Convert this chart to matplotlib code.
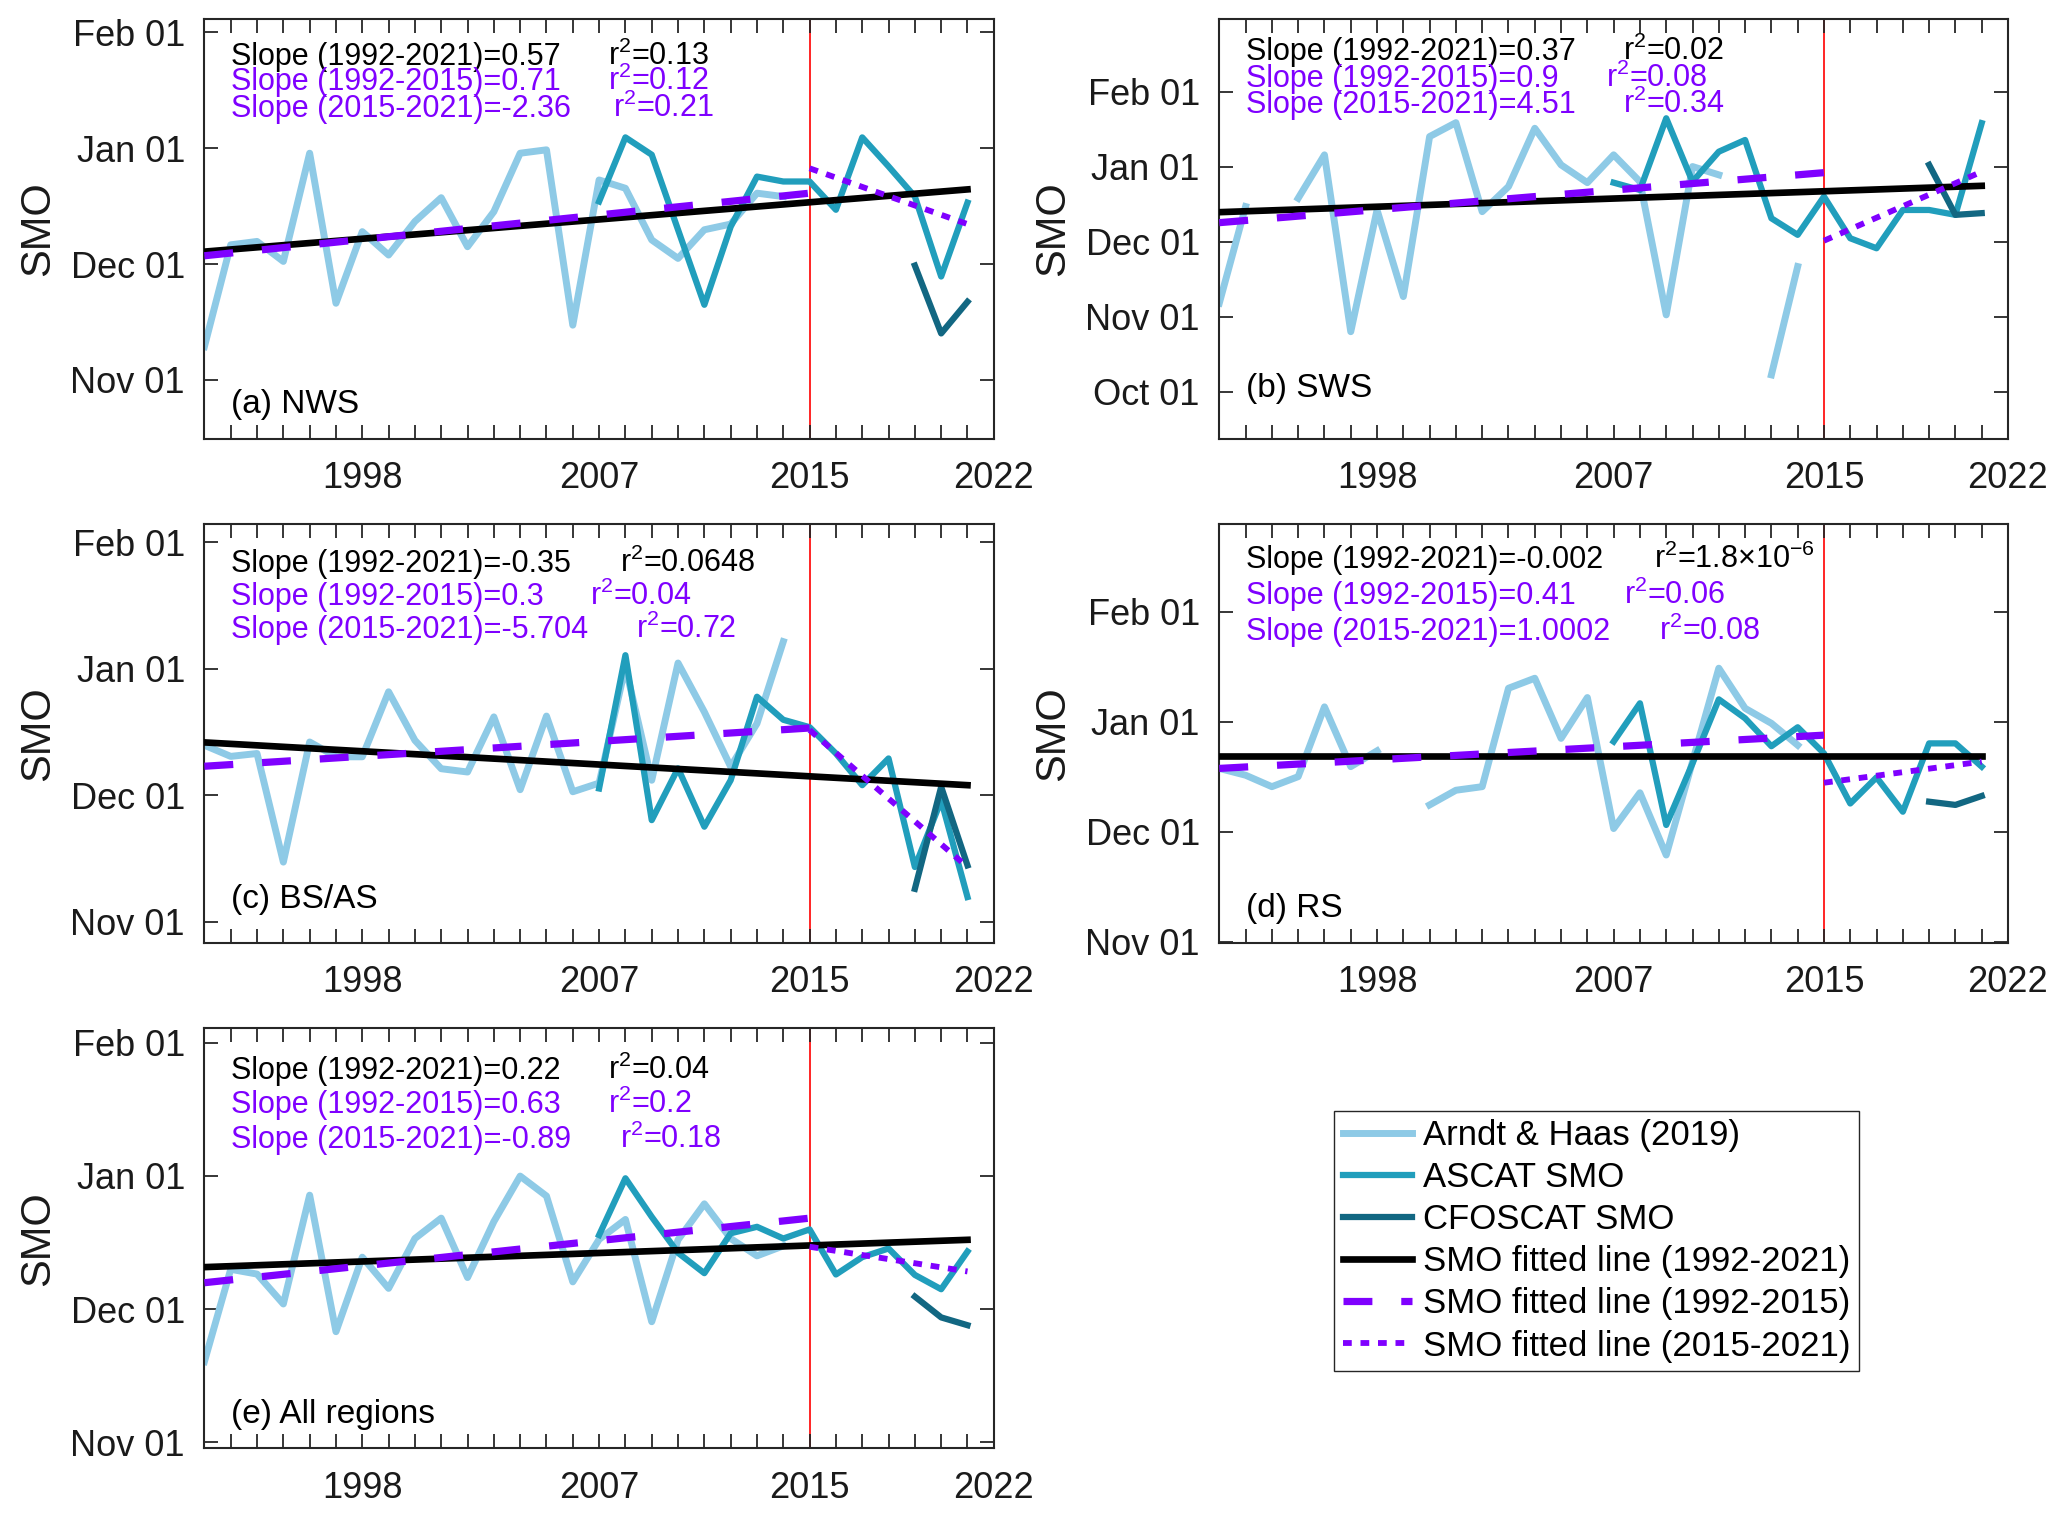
import numpy as np
import matplotlib
matplotlib.use("Agg")
import matplotlib.pyplot as plt

plt.rcParams['font.family'] = ['Liberation Sans', 'DejaVu Sans']
plt.rcParams['mathtext.fontset'] = 'custom'
plt.rcParams['mathtext.rm'] = 'Liberation Sans'
plt.rcParams['mathtext.it'] = 'Liberation Sans:italic'
plt.rcParams['mathtext.bf'] = 'Liberation Sans:bold'

# ---- data (SMO as day-of-year, Oct 01 = 274 ... Feb 01 = 397) ----
years_light = np.arange(1992, 2015)
years_ascat = np.arange(2007, 2022)
years_cfo = np.arange(2019, 2022)
nan = np.nan

month_ticks = [274, 304.75, 335.5, 366.25, 397]
month_labels = ['Oct 01', 'Nov 01', 'Dec 01', 'Jan 01', 'Feb 01']

fit_periods = [(1992, 2021), (1992, 2015), (2015, 2021)]

light_a = [313.6, 340.6, 341.5, 336.2, 364.9, 325.1, 344.1, 337.9, 346.8, 353.1, 340.1, 349.4,
           364.9, 365.8, 319.3, 357.8, 355.6, 341.9, 337.0, 344.6, 346.1, 354.3, 353.4]
ascat_a = [352.1, 369.1, 364.5, 344.6, 324.7, 345.4, 358.7, 357.4, 357.4, 349.9, 369.1, 361.4,
           353.4, 332.2, 351.8]
cfo_a = [335.1, 317.1, 325.5]
fits_a = [(338.8, 355.3), (337.7, 354.3), (360.9, 346.1)]
stats_a = [('0.57', '0.13'), ('0.71', '0.12'), ('-2.36', '0.21')]

light_b = [310.4, 350.0, nan, 353.4, 371.2, 298.7, 348.6, 313.1, 378.7, 384.4, 347.9, 358.2,
           382.1, 367.1, 359.8, 371.2, 360.2, 305.6, 366.4, 363.0, nan, 281.0, 325.4]
ascat_b = [359.8, 356.8, 386.2, 360.2, 372.5, 377.3, 345.2, 338.4, 354.1, 337.0, 332.9, 348.6,
           348.6, 346.6, 384.2]
cfo_b = [367.1, 346.6, 347.3]
fits_b = [(347.7, 358.5), (343.4, 363.9), (336.0, 364.3)]
stats_b = [('0.37', '0.02'), ('0.9', '0.08'), ('4.51', '0.34')]

light_c = [347.6, 344.9, 345.6, 319.2, 348.4, 344.8, 344.8, 360.6, 348.8, 341.9, 341.1, 354.5,
           336.8, 354.7, 336.3, 338.4, 366.7, 339.1, 367.6, 355.7, 342.4, 352.9, 372.8]
ascat_c = [337.1, 369.5, 329.4, 342.0, 327.8, 339.1, 359.4, 353.8, 352.0, 345.6, 337.9, 344.4,
           318.0, 334.2, 310.7]
cfo_c = [312.7, 337.5, 318.4]
fits_c = [(348.3, 337.9), (342.5, 351.8), (351.3, 318.0)]
stats_c = [('-0.35', '0.0648'), ('0.3', '0.04'), ('-5.704', '0.72')]

light_d = [353.2, 351.3, 348.1, 350.9, 370.4, 353.7, 358.1, nan, 343.0, 347.1, 348.1, 375.6,
           378.4, 361.6, 373.0, 336.4, 346.4, 329.0, 355.1, 381.2, 370.0, 365.8, 359.7]
ascat_d = [360.7, 371.4, 337.4, 354.6, 372.5, 367.2, 359.4, 364.7, 357.4, 343.4, 350.7, 341.1,
           360.2, 360.2, 353.7]
cfo_d = [343.9, 343.0, 345.5]
fits_d = [(356.7, 356.7), (353.2, 362.5), (349.2, 355.1)]
stats_d = [('-0.002', '1.8\u00d710$^{-6}$'), ('0.41', '0.06'), ('1.0002', '0.08')]

light_e = [323.4, 344.7, 343.6, 336.7, 361.8, 330.3, 347.5, 340.3, 351.8, 356.5, 342.8, 355.7,
           366.2, 361.6, 341.8, 351.6, 356.2, 332.6, 351.5, 359.8, 351.8, 347.8, 350.1]
ascat_e = [352.6, 365.7, 356.8, 348.5, 343.8, 353.0, 354.5, 351.8, 353.9, 343.5, 347.5, 349.5,
           343.4, 340.1, 348.8]
cfo_e = [338.4, 333.6, 331.8]
fits_e = [(345.2, 351.5), (341.6, 356.5), (349.9, 344.2)]
stats_e = [('0.22', '0.04'), ('0.63', '0.2'), ('-0.89', '0.18')]

panel_names = ['(a) NWS', '(b) SWS', '(c) BS/AS', '(d) RS', '(e) All regions']
series_labels = ['Arndt & Haas (2019)', 'ASCAT SMO', 'CFOSCAT SMO',
                 'SMO fitted line (1992-2021)', 'SMO fitted line (1992-2015)',
                 'SMO fitted line (2015-2021)']

# ---- layout / style ----
W, H = 2067, 1518
rects_px = [(204.4, 19, 993.8, 439), (1219.3, 19, 2008, 439),
            (204.4, 524, 993.8, 942.7), (1219.3, 524, 2008, 942.7),
            (204.4, 1028.3, 993.8, 1448.3)]
ylims = [(289.1, 400.5), (254.7, 426.9), (299.6, 401.4), (304.5, 421.5), (303.4, 400.3)]
# baselines of the three stat lines (px from axes top) and r2 x-positions (px from axes left)
text_rows = [(46, 71, 98), (41, 68, 94), (48, 81, 114), (44, 80, 116), (51, 85, 120)]
r2_x = [(404, 404, 409), (404, 387, 404), (416, 386, 432), (435, 405, 440), (404, 404, 416)]
name_offset = [26, 42, 35, 26, 25]

c_light = '#8ECAE6'
c_ascat = '#219EBC'
c_cfo = '#126782'
c_purple = '#7F00FF'
c_axis = '#262626'

panels = [
    (light_a, ascat_a, cfo_a, fits_a, stats_a),
    (light_b, ascat_b, cfo_b, fits_b, stats_b),
    (light_c, ascat_c, cfo_c, fits_c, stats_c),
    (light_d, ascat_d, cfo_d, fits_d, stats_d),
    (light_e, ascat_e, cfo_e, fits_e, stats_e),
]

fig = plt.figure(figsize=(W / 100, H / 100), dpi=100)

handles = None
for i, (light, ascat, cfo, fits, stats) in enumerate(panels):
    x0, y0, x1, y1 = rects_px[i]
    ax = fig.add_axes([x0 / W, 1 - y1 / H, (x1 - x0) / W, (y1 - y0) / H])
    w_px, h_px = x1 - x0, y1 - y0

    ax.axvline(2015, color='#FF0000', lw=1.2, zorder=1)
    h1, = ax.plot(years_light, light, color=c_light, lw=5, zorder=2)
    h2, = ax.plot(years_ascat, ascat, color=c_ascat, lw=4.5, zorder=3)
    h3, = ax.plot(years_cfo, cfo, color=c_cfo, lw=4.5, zorder=4)
    styles = [dict(color='black', lw=4.8, ls='-'),
              dict(color=c_purple, lw=5.2, ls=(0, (4, 4))),
              dict(color=c_purple, lw=4.2, ls=(0, (1.5, 1.5)))]
    fh = []
    for (p0, p1), (v0, v1), st in zip(fit_periods, fits, styles):
        l, = ax.plot([p0, p1], [v0, v1], zorder=5, **st)
        fh.append(l)
    if handles is None:
        handles = [h1, h2, h3] + fh

    ax.set_xticks([1998, 2007, 2015, 2022])
    ax.set_xticks(np.arange(1992, 2023), minor=True)
    ax.set_yticks(month_ticks)
    ax.set_yticklabels(month_labels)
    ax.set_xlim(1992, 2022)
    ax.set_ylim(*ylims[i])
    ax.tick_params(which='both', direction='in', top=True, right=True, length=10,
                   width=1.3, color=c_axis, labelsize=26, labelcolor='#1a1a1a')
    ax.tick_params(axis='x', which='major', pad=16)
    ax.tick_params(axis='y', which='major', pad=14)
    for s in ax.spines.values():
        s.set_linewidth(1.5)
        s.set_color(c_axis)
    ax.set_ylabel('SMO', fontsize=30, color='#1a1a1a')
    ax.yaxis.set_label_coords(-146 / w_px, 0.5)

    colors = ['black', c_purple, c_purple]
    for k, ((slope, r2), period, col) in enumerate(zip(stats, fit_periods, colors)):
        yb = 1 - text_rows[i][k] / h_px
        ax.text(27 / w_px, yb, f'Slope ({period[0]}-{period[1]})={slope}',
                transform=ax.transAxes, fontsize=22, color=col, va='baseline', zorder=7)
        ax.text(r2_x[i][k] / w_px, yb, 'r$^{2}$=' + r2,
                transform=ax.transAxes, fontsize=22, color=col, va='baseline', zorder=7)
    ax.text(27 / w_px, name_offset[i] / h_px, panel_names[i], transform=ax.transAxes,
            fontsize=24, color='black', va='baseline')

fig.legend(handles, series_labels, loc='upper left',
           bbox_to_anchor=(1334 / W, 1 - 1110.7 / H), fontsize=25,
           frameon=True, fancybox=False, framealpha=1, edgecolor=c_axis,
           borderpad=0.25, labelspacing=0.26, handlelength=2.0, handletextpad=0.3,
           borderaxespad=0)

fig.savefig('out.png', dpi=100)
